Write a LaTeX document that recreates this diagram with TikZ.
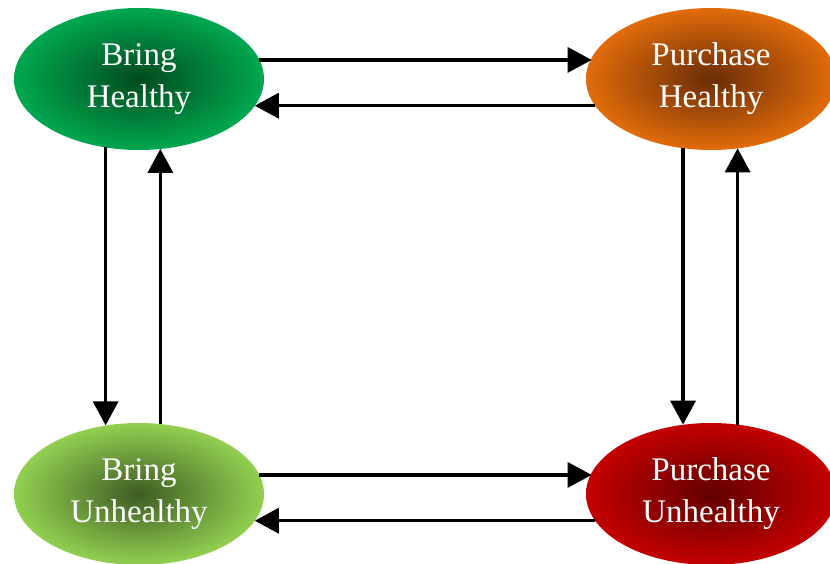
\documentclass[tikz,border=0pt]{standalone}
\usepackage{fontspec}
\setmainfont{Liberation Serif}
\usetikzlibrary{shapes.geometric,arrows.meta}
\definecolor{gOut}{RGB}{0,168,80}
\definecolor{gIn}{RGB}{0,75,30}
\definecolor{oOut}{RGB}{226,108,10}
\definecolor{oIn}{RGB}{105,45,5}
\definecolor{lOut}{RGB}{146,208,80}
\definecolor{lIn}{RGB}{62,92,35}
\definecolor{rOut}{RGB}{196,0,0}
\definecolor{rIn}{RGB}{98,0,0}
\tikzset{
  state/.style={ellipse, minimum width=250pt, minimum height=142pt, inner sep=0pt, outer sep=0pt,
    text=white, align=center, font=\fontsize{33}{42}\selectfont},
  arr/.style={line width=3.5pt, -{Triangle[length=24pt,width=25pt]}}
}
\begin{document}
\begin{tikzpicture}[x=1pt,y=-1pt]
\useasboundingbox (0,0) rectangle (830,564);
\node[state, inner color=gIn, outer color=gOut] (bh) at (139,79) {Bring\\Healthy};
\node[state, inner color=oIn, outer color=oOut] (ph) at (711,79) {Purchase\\Healthy};
\node[state, inner color=lIn, outer color=lOut] (bu) at (139,494) {Bring\\Unhealthy};
\node[state, inner color=rIn, outer color=rOut] (pu) at (711,494) {Purchase\\Unhealthy};
% top pair
\draw[arr] (bh.9.4) -- (bh.9.4 -| ph.170.6);
\draw[arr] (ph.193.7) -- (ph.193.7 -| bh.-13.7);
% bottom pair
\draw[arr] (bu.9.4) -- (bu.9.4 -| pu.170.6);
\draw[arr] (pu.193.1) -- (pu.193.1 -| bu.-13.1);
% left pair
\draw[arr] (bh.244.3) -- (bh.244.3 |- bu.115.7);
\draw[arr] (bu.73.3) -- (bu.73.3 |- bh.-73.3);
% right pair
\draw[arr] (ph.248.7) -- (ph.248.7 |- pu.111.3);
\draw[arr] (pu.69.5) -- (pu.69.5 |- ph.-69.5);
\end{tikzpicture}
\end{document}
